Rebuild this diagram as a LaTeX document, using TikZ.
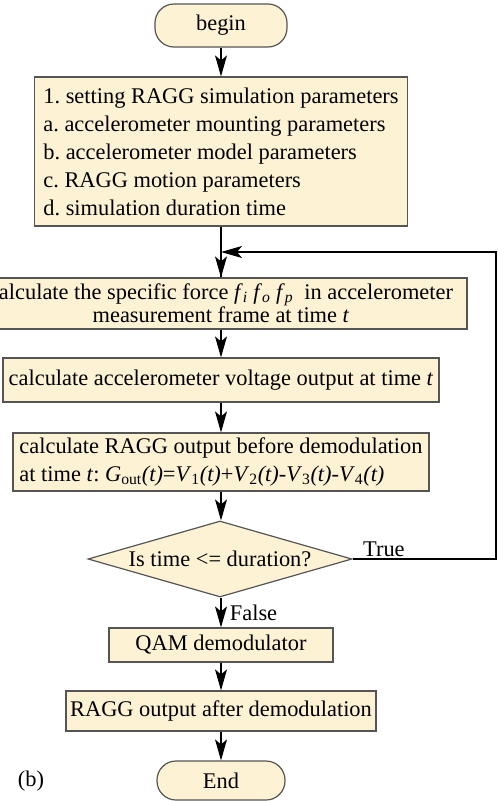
\documentclass[tikz,border=0pt]{standalone}
\usepackage{fontspec}
\setmainfont{Liberation Serif}
\usetikzlibrary{arrows.meta,positioning,shapes.geometric}
\definecolor{boxfill}{HTML}{FDF2D4}
\definecolor{boxline}{HTML}{555555}
\frenchspacing

\begin{document}
\begin{tikzpicture}[
            x=1pt, y=1pt,
            font=\fontsize{22.4}{28}\selectfont,
            term/.style={draw=boxline, line width=1.2pt, fill=boxfill, rounded corners=19pt, minimum width=132pt, inner sep=0pt},
            proc/.style={draw=boxline, line width=1.2pt, fill=boxfill, align=center, inner sep=0pt},
            cond/.style={draw=boxline, line width=1.2pt, fill=boxfill, diamond, aspect=3.47, inner sep=0pt, minimum width=264pt, minimum height=76pt},
            arrow/.style={-{Stealth[length=21pt, width=12pt, inset=5pt]}, line width=1.1pt}
        ]
            \useasboundingbox (0,0) rectangle (498,-801);

            \node[term, minimum height=43pt] (begin) at (221,-25.5) {begin};
            \node[proc, minimum width=373pt, minimum height=149pt, align=left] (setup) at (221,-151.5)
                {1. setting RAGG simulation parameters\\
                 a. accelerometer mounting parameters\\
                 b. accelerometer model parameters\\
                 c. RAGG motion parameters\\
                 d. simulation duration time};
            \node[proc, minimum width=492pt, minimum height=51pt, font=\fontsize{22.4}{22}\selectfont] (force) at (221,-303.5)
                {calculate the specific force \textit{f}\textsubscript{\textit{i}} \textit{f}\textsubscript{\textit{o}} \textit{f}\textsubscript{\textit{p}} \ in accelerometer\\
                 measurement frame at time \textit{t}};
            \node[proc, minimum width=436pt, minimum height=44pt] (volt) at (221,-380)
                {calculate accelerometer voltage output at time \textit{t}};
            \node[proc, minimum width=416pt, minimum height=58pt, align=left] (gout) at (221,-462)
                {calculate RAGG output before demodulation\\
                 at time \textit{t}: \textit{G}\textsubscript{out}\textit{(t)}=\textit{V}\textsubscript{1}\textit{(t)}+\textit{V}\textsubscript{2}\textit{(t)}-\textit{V}\textsubscript{3}\textit{(t)}-\textit{V}\textsubscript{4}\textit{(t)}};
            \node[cond] (check) at (220,-559) {Is time <= duration?};
            \node[proc, minimum width=224pt, minimum height=34pt] (qam) at (221,-645) {QAM demodulator};
            \node[proc, minimum width=310pt, minimum height=40pt] (after) at (221,-711) {RAGG output after demodulation};
            \node[term, minimum width=128pt, minimum height=39pt] (end) at (221,-780.5) {End};
            \node (label) at (31,-781) {(b)};

            \coordinate (loopr) at (496,-559);
            \coordinate (loopt) at (496,-252);

            \draw[arrow] (begin) -- (setup);
            \draw[line width=1.1pt] (setup.south) -- (force.north);
            \draw[arrow] (setup.south |- loopt) -- (force);
            \draw[arrow] (force) -- (volt);
            \draw[arrow] (volt) -- (gout);
            \draw[arrow] (gout.south) -- (gout.south |- check.north);
            \draw[arrow] (check.south -| qam.north) -- node[right=5pt, pos=0.5] {False} (qam);
            \draw[arrow] (qam) -- (after);
            \draw[arrow] (after) -- (end);
            \draw[arrow] (check.east) -- node[pos=0, anchor=south west, inner sep=2pt, xshift=8pt] {True} (check.east -| loopr) -- (loopt) -- (setup.south |- loopt);
        \end{tikzpicture}
\end{document}
